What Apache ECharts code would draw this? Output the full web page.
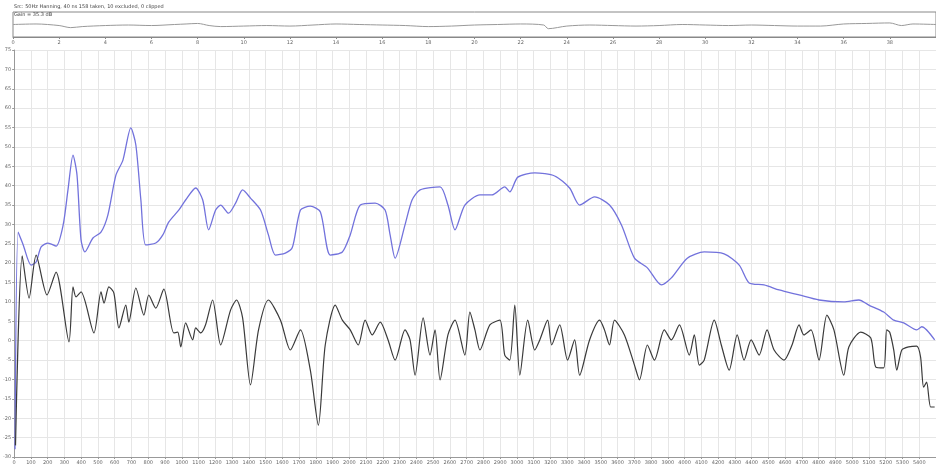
<!DOCTYPE html>
<html><head><meta charset="utf-8">
<script src="https://cdn.jsdelivr.net/npm/echarts@6/dist/echarts.min.js"></script>
<style>html,body{margin:0;padding:0;background:#fff}#c{width:936px;height:468px}</style>
</head><body><div id="c"></div>
<script>
// Main plot: frequency (Hz) / level (dB)
const blueHz = [5,24,54,101,131,161,202,250,292,321,351,375,399,422,470,518,559,607,649,696,726,756,785,845,887,922,982,1023,1083,1125,1160,1202,1232,1279,1321,1363,1410,1470,1517,1559,1618,1660,1708,1767,1827,1886,1958,2005,2065,2154,2213,2243,2273,2332,2374,2422,2541,2588,2630,2689,2779,2850,2927,2957,3005,3106,3225,3314,3374,3463,3552,3624,3701,3778,3862,3921,4016,4117,4236,4326,4385,4474,4564,4683,4802,4950,5040,5099,5188,5248,5307,5385,5415,5492];
const blueDb = [-28,28.0,24.7,19.5,20.3,24.2,25.2,24.4,29.8,38.9,47.9,42.7,26.0,22.9,26.5,28.0,32.4,42.7,46.6,54.9,50.5,36.3,24.7,25.2,27.3,30.6,33.7,36.3,39.4,36.3,28.6,33.7,35.0,32.9,35.5,38.9,36.8,33.7,27.3,22.1,22.6,24.1,33.7,34.7,33.2,22.1,22.9,27.3,35.0,35.5,33.7,27.3,21.3,29.9,36.3,38.9,39.7,35.0,28.6,35.0,37.6,37.6,39.7,38.4,42.2,43.3,42.5,39.4,35.0,37.1,35.0,29.8,21.3,18.8,14.4,16.2,21.3,22.9,22.4,19.5,14.9,14.4,13.1,11.8,10.5,10.0,10.5,9.2,7.4,5.3,4.6,2.8,3.6,0.2];
const blackHz = [8,48,89,131,196,250,327,351,369,399,476,518,536,565,595,625,666,684,726,774,803,845,893,952,976,994,1023,1065,1083,1113,1142,1184,1232,1291,1327,1363,1410,1458,1517,1589,1648,1708,1767,1815,1856,1916,1958,2005,2053,2094,2136,2184,2231,2273,2332,2362,2392,2440,2481,2511,2541,2588,2630,2689,2719,2749,2779,2838,2898,2927,2957,2987,3017,3064,3106,3136,3183,3207,3255,3302,3344,3374,3433,3493,3522,3552,3582,3641,3701,3731,3778,3820,3879,3921,3969,4028,4058,4088,4117,4177,4219,4266,4314,4355,4397,4445,4492,4534,4593,4641,4683,4712,4754,4802,4849,4891,4950,4980,5051,5111,5141,5188,5206,5224,5248,5266,5296,5337,5385,5408,5426,5444,5468,5492];
const blackDb = [-27,21.9,11.0,22.1,11.8,17.7,-0.3,13.9,11.3,12.6,2.0,12.6,9.7,13.9,12.3,3.3,9.2,4.8,13.6,6.6,11.8,8.4,13.3,2.0,2.2,-1.6,4.6,0.2,3.3,2.0,4.1,10.5,-1.1,7.9,10.5,5.9,-11.4,2.8,10.5,5.3,-2.4,2.8,-7.6,-21.8,-1.1,9.2,5.3,2.8,-1.1,5.3,1.5,4.8,0.2,-5.0,2.8,0.2,-8.9,5.9,-3.7,2.8,-10.1,1.5,5.3,-3.7,7.4,2.8,-2.4,4.1,5.3,-3.7,-5.0,9.2,-8.9,5.3,-2.4,0.2,5.3,-1.1,4.1,-5.0,0.2,-8.9,0.2,5.3,2.8,-1.1,5.3,1.5,-6.3,-10.1,-1.1,-5.0,2.8,0.2,4.1,-3.7,1.5,-6.3,-5.0,5.3,-1.1,-7.6,1.5,-5.0,0.2,-3.7,2.8,-2.4,-5.0,-1.1,4.1,1.5,2.8,-5.0,6.6,2.8,-8.9,-1.6,2.2,0.7,-6.8,-7.0,2.8,2.2,-2.4,-7.6,-2.4,-1.6,-1.4,-4.2,-12.0,-10.7,-17.1,-17.1];
// Top strip: time (ms) / level
const stripT = [0,1,2,2.5,3,4,5,6,7,7.5,8,8.5,9,10,11,12,13,14,15,16,17,18,19,20,21,22,23,23.2,24,25,26,27,28,29,30,31,32,33,34,35,36,37,38,38.5,39,40];
const stripV = [12,12.5,11,9,10,11,11.5,11,12,12.5,13,11,10,10.5,11,10.5,11.5,12.5,12,11.5,11,10,10.5,11.5,12,12.5,11.5,8,10.5,11.5,11,10.5,11,12,11.5,11,11.5,11,10.5,10.5,12.5,13,13.5,11,12.5,12];
const headerLines = ['Src: 50Hz Hanning, 40 ns 158 taken, 10 excluded, 0 clipped', 'Gain = 35.3 dB'];

const zip = (a, b) => a.map((v, i) => [v, b[i]]);
const labelStyle = {fontSize: 5, color: '#666', fontFamily: 'DejaVu Sans', formatter: v => String(v)};
const chart = echarts.init(document.getElementById('c'));
chart.setOption({
  animation: false,
  backgroundColor: '#fff',
  graphic: [
    {type: 'text', left: 14, top: 4, style: {text: headerLines[0], fontSize: 5, fill: '#444', fontFamily: 'DejaVu Sans'}},
    {type: 'text', left: 14, top: 12, style: {text: headerLines[1], fontSize: 5, fill: '#444', fontFamily: 'DejaVu Sans'}}
  ],
  grid: [
    {left: 13, right: 0, top: 12, height: 25, show: true, borderColor: '#888', borderWidth: 1},
    {left: 13, right: 0, top: 50, bottom: 11, show: false}
  ],
  xAxis: [
    {gridIndex: 0, type: 'value', min: 0, max: 40, interval: 2,
     axisLine: {show: true, lineStyle: {color: '#888'}}, axisTick: {show: true, length: 2, lineStyle: {color: '#888'}},
     axisLabel: Object.assign({margin: 3, showMaxLabel: false}, labelStyle), splitLine: {show: false}},
    {gridIndex: 1, type: 'value', min: 0, max: 5500, interval: 100,
     axisLine: {show: true, onZero: false, lineStyle: {color: '#999'}}, axisTick: {show: true, length: 2, lineStyle: {color: '#999'}},
     axisLabel: Object.assign({margin: 3, showMaxLabel: false}, labelStyle),
     splitLine: {show: true, lineStyle: {color: '#e6e6e6', width: 1}}}
  ],
  yAxis: [
    {gridIndex: 0, type: 'value', min: 0, max: 24, axisLine: {show: false}, axisTick: {show: false}, axisLabel: {show: false}, splitLine: {show: false}},
    {gridIndex: 1, type: 'value', min: -30, max: 75, interval: 5,
     axisLine: {show: true, lineStyle: {color: '#999'}}, axisTick: {show: true, length: 2, lineStyle: {color: '#999'}},
     axisLabel: Object.assign({margin: 3}, labelStyle),
     splitLine: {show: true, lineStyle: {color: '#e6e6e6', width: 1}}}
  ],
  series: [
    {type: 'line', xAxisIndex: 0, yAxisIndex: 0, data: zip(stripT, stripV), showSymbol: false, smooth: 0.3, lineStyle: {color: '#999', width: 1}},
    {type: 'line', xAxisIndex: 1, yAxisIndex: 1, data: zip(blueHz, blueDb), showSymbol: false, smooth: 0.25, lineStyle: {color: '#7272dc', width: 1.3}},
    {type: 'line', xAxisIndex: 1, yAxisIndex: 1, data: zip(blackHz, blackDb), showSymbol: false, smooth: 0.25, lineStyle: {color: '#3a3a3a', width: 1.2}}
  ]
});
</script></body></html>
